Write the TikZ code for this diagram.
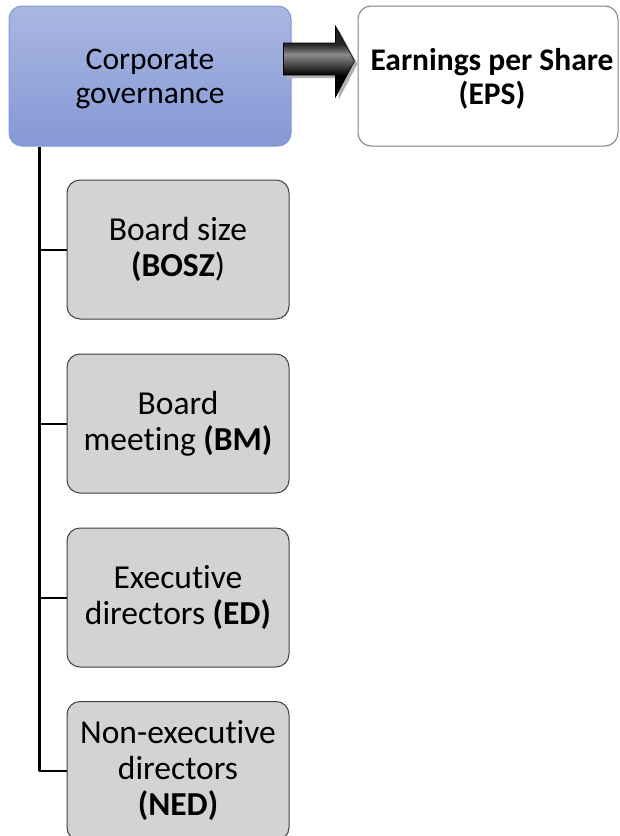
\documentclass[tikz,border=0pt]{standalone}
\usepackage{fontspec}
\setmainfont[Ligatures={NoCommon,NoContextual}]{Carlito}
\usetikzlibrary{shadings}
\definecolor{cgtop}{HTML}{A9B7E1}
\definecolor{cgbot}{HTML}{8598D5}
\definecolor{cgline}{HTML}{7F9AD6}
\definecolor{boxfill}{HTML}{D3D3D3}
\definecolor{boxline}{HTML}{404040}
\definecolor{epsline}{HTML}{808080}
\definecolor{arrowhi}{HTML}{8C8C8C}
\pgfdeclareverticalshading{arrowshade}{100bp}{color(0bp)=(black); color(40bp)=(black); color(55bp)=(arrowhi); color(62bp)=(black!85); color(100bp)=(black)}
\tikzset{
  toptxt/.style={font=\fontsize{31.5}{34.5}\selectfont, align=center, text=black, inner sep=0pt},
  itemtxt/.style={font=\fontsize{33.5}{36}\selectfont, align=center, text=black},
  cgbox/.style={rounded corners=13pt, draw=cgline, line width=1pt, top color=cgtop, bottom color=cgbot, minimum width=282pt, minimum height=140pt, inner sep=0pt},
  epsbox/.style={rounded corners=13pt, draw=epsline, line width=1pt, fill=white, minimum width=260pt, minimum height=140pt, inner sep=0pt},
  itembox/.style={itemtxt, rounded corners=13pt, draw=boxline, line width=1pt, fill=boxfill, minimum width=222pt, minimum height=139pt, inner sep=0pt},
  conn/.style={draw=black, line width=2pt},
}
\begin{document}
\begin{tikzpicture}[x=1pt,y=-1pt]
\useasboundingbox (0,0) rectangle (619,836);
\begin{scope}
\clip (0,0) rectangle (619,836);
\node[cgbox] (cg) at (150,76) {};
\node[toptxt] (cgtext) at ([yshift=-3pt]cg.center) {Corporate\\governance};
\node[epsbox] (eps) at (488,76) {};
\node[toptxt, font=\fontsize{31.5}{33.5}\selectfont\bfseries] (epstext) at ([shift={(4pt,-3pt)}]eps.center) {Earnings per Share\\(EPS)};
\node[itembox] (bosz) at (178,249.5) {Board size\\\textbf{(BOSZ})};
\node[itembox] (bm) at (178,423.5) {Board\\meeting \textbf{(BM)}};
\node[itembox] (ed) at (178,597.5) {Executive\\directors \textbf{(ED)}};
\node[itembox] (ned) at (178,771) {Non-executive\\directors\\\textbf{(NED)}};
\coordinate (top) at (39,0 |- cg.south);
\coordinate (trunk) at (39,771);
\draw[conn, line width=3pt] (top) -- (trunk);
\draw[conn] (39,0 |- bosz.west) -- (bosz.west);
\draw[conn] (39,0 |- bm.west) -- (bm.west);
\draw[conn] (39,0 |- ed.west) -- (ed.west);
\draw[conn] (38.5,0 |- ned.west) -- (ned.west);
% block arrow from cg to eps
\coordinate (as) at ([shift={(-8,-33)}]cg.east);
\fill[gray!60] ([shift={(3,3)}]as) -- ++(52,0) -- ++(0,-17) -- ++(19,35) -- ++(-19,36) -- ++(0,-22) -- ++(-52,0) -- cycle;
\shade[shading=arrowshade, draw=black, line width=0.6pt]
  (as) -- ++(52,0) -- ++(0,-17) -- ++(19,35) -- ++(-19,36) -- ++(0,-22) -- ++(-52,0) -- cycle;
\end{scope}
\end{tikzpicture}
\end{document}
